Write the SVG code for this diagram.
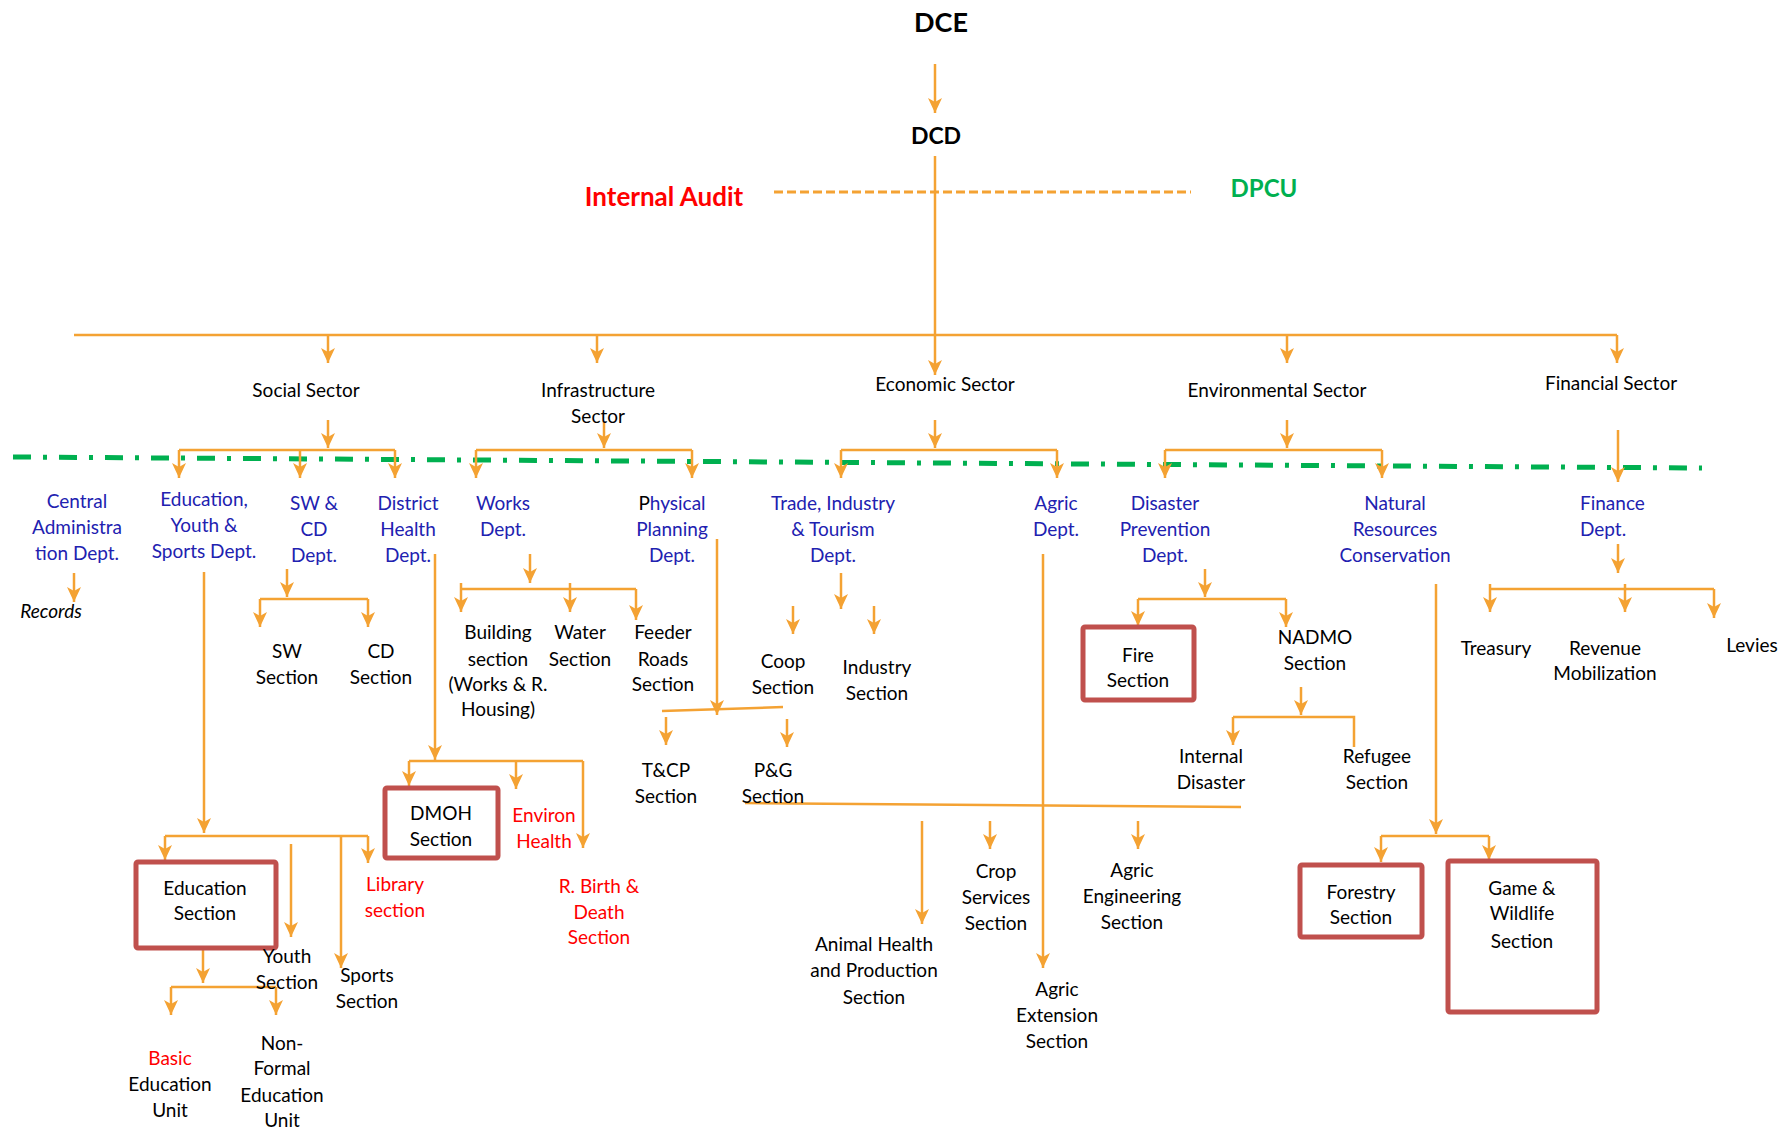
<svg xmlns="http://www.w3.org/2000/svg" width="1791" height="1131" viewBox="0 0 1791 1131">
<style>
text{font-family:Lato,"Liberation Sans",sans-serif;font-size:19px;fill:#000;text-anchor:middle}
.b{fill:#2121B0}
.r{fill:#FF0000}
.hb{font-weight:bold}
.c{fill:none;stroke:#F4A233;stroke-width:2.5}
.a{marker-end:url(#ah)}
.box{fill:#fff;stroke:#C0504D;stroke-width:5}
</style>
<defs>
<marker id="ah" markerUnits="userSpaceOnUse" markerWidth="16" markerHeight="14" refX="15" refY="7" orient="auto">
<path d="M0,0 L15,7 L0,14 L4,7 z" fill="#F4A233"/>
</marker>
</defs>
<rect width="1791" height="1131" fill="#fff"/>

<g id="connectors">
<path class="c a" d="M935,64 V113"/>
<path class="c a" d="M935,156 V375"/>
<path class="c" d="M774,192 H1191" stroke-dasharray="9 4" style="stroke-width:3.2"/>
<path class="c" d="M74,335 H1617"/>
<path class="c a" d="M328,335 V363"/>
<path class="c a" d="M597,335 V363"/>
<path class="c a" d="M1287,335 V363"/>
<path class="c a" d="M1617,335 V363"/>
<path d="M13,457 L1702,468" fill="none" stroke="#00B050" stroke-width="5" stroke-dasharray="18 12 4 12"/>
<!-- social -->
<path class="c a" d="M328,420 V448"/>
<path class="c" d="M179,450 H395"/>
<path class="c a" d="M179,450 V478"/>
<path class="c a" d="M300,450 V478"/>
<path class="c a" d="M395,450 V478"/>
<!-- infrastructure -->
<path class="c a" d="M604,422 V448"/>
<path class="c" d="M476,450 H692"/>
<path class="c a" d="M476,450 V478"/>
<path class="c a" d="M692,450 V478"/>
<!-- economic -->
<path class="c a" d="M935,420 V448"/>
<path class="c" d="M841,450 H1057"/>
<path class="c a" d="M841,450 V478"/>
<path class="c a" d="M1057,450 V478"/>
<!-- environmental -->
<path class="c a" d="M1287,420 V448"/>
<path class="c" d="M1165,450 H1382"/>
<path class="c a" d="M1165,450 V478"/>
<path class="c a" d="M1382,450 V478"/>
<!-- financial -->
<path class="c a" d="M1618,430 V482"/>
<!-- central -->
<path class="c a" d="M74,573 V602"/>
<!-- sw cd -->
<path class="c a" d="M287,569 V597"/>
<path class="c" d="M260,599 H368"/>
<path class="c a" d="M260,599 V627"/>
<path class="c a" d="M368,599 V627"/>
<!-- works -->
<path class="c a" d="M530,554 V583"/>
<path class="c" d="M461,589 H636"/>
<path class="c a" d="M461,583 V612"/>
<path class="c a" d="M570,583 V612"/>
<path class="c a" d="M636,589 V620"/>
<!-- physical planning -->
<path class="c a" d="M717,539 V715"/>
<path class="c" d="M662,711 L783,707"/>
<path class="c a" d="M666,717 V745"/>
<path class="c a" d="M787,719 V747"/>
<!-- trade -->
<path class="c a" d="M841,573 V609"/>
<path class="c a" d="M793,606 V634"/>
<path class="c a" d="M874,606 V634"/>
<!-- agric -->
<path class="c a" d="M1043,554 V968"/>
<path class="c" d="M745,803 L1241,807"/>
<path class="c a" d="M922,821 V924"/>
<path class="c a" d="M990,821 V849"/>
<path class="c a" d="M1138,821 V849"/>
<!-- disaster -->
<path class="c a" d="M1205,569 V597"/>
<path class="c" d="M1138,599 H1286"/>
<path class="c a" d="M1138,599 V626"/>
<path class="c a" d="M1286,599 V627"/>
<path class="c a" d="M1301,687 V715"/>
<path class="c" d="M1233,717 H1354 V747"/>
<path class="c a" d="M1233,717 V745"/>
<!-- natural resources -->
<path class="c a" d="M1436,584 V834"/>
<path class="c" d="M1381,836 H1489"/>
<path class="c a" d="M1381,836 V862"/>
<path class="c a" d="M1489,836 V860"/>
<!-- finance -->
<path class="c a" d="M1618,544 V573"/>
<path class="c" d="M1490,589 H1714"/>
<path class="c a" d="M1490,584 V612"/>
<path class="c a" d="M1625,584 V612"/>
<path class="c a" d="M1714,589 V618"/>
<!-- district health -->
<path class="c a" d="M435,554 V760"/>
<path class="c" d="M409,761 H583"/>
<path class="c a" d="M409,761 V786"/>
<path class="c a" d="M516,761 V789"/>
<path class="c a" d="M583,761 V848"/>
<!-- education -->
<path class="c a" d="M204,572 V833"/>
<path class="c" d="M165,836 H368"/>
<path class="c a" d="M165,836 V860"/>
<path class="c a" d="M368,836 V863"/>
<path class="c a" d="M291,844 V937"/>
<path class="c a" d="M341,836 V968"/>
<path class="c a" d="M203,939 V983"/>
<path class="c" d="M171,987 H276"/>
<path class="c a" d="M171,987 V1015"/>
<path class="c a" d="M276,987 V1015"/>
</g>

<g id="dce"><text x="941" y="32" class="hb" style="font-size:27px">DCE</text></g>
<g id="dcd"><text x="936" y="144" class="hb" style="font-size:23px">DCD</text></g>
<g id="internal-audit"><text x="664" y="206" class="hb r" style="font-size:26px">Internal Audit</text></g>
<g id="dpcu"><text x="1264" y="197" class="hb" style="font-size:24px;fill:#00B050">DPCU</text></g>

<g id="social-sector"><text x="306" y="397">Social Sector</text></g>
<g id="infrastructure-sector"><text x="598"><tspan x="598" y="397">Infrastructure</tspan><tspan x="598" y="423">Sector</tspan></text></g>
<g id="economic-sector"><text x="945" y="391">Economic Sector</text></g>
<g id="environmental-sector"><text x="1277" y="397">Environmental Sector</text></g>
<g id="financial-sector"><text x="1611" y="390">Financial Sector</text></g>

<g id="central-admin"><text class="b"><tspan x="77" y="508">Central</tspan><tspan x="77" y="534">Administra</tspan><tspan x="77" y="560">tion Dept.</tspan></text></g>
<g id="records"><text x="51" y="618" style="font-style:italic">Records</text></g>
<g id="education-dept"><text class="b"><tspan x="204" y="506">Education,</tspan><tspan x="204" y="532">Youth &amp;</tspan><tspan x="204" y="558">Sports Dept.</tspan></text></g>
<g id="swcd-dept"><text class="b"><tspan x="314" y="510">SW &amp;</tspan><tspan x="314" y="536">CD</tspan><tspan x="314" y="562">Dept.</tspan></text></g>
<g id="district-health"><text class="b"><tspan x="408" y="510">District</tspan><tspan x="408" y="536">Health</tspan><tspan x="408" y="562">Dept.</tspan></text></g>
<g id="works-dept"><text class="b"><tspan x="503" y="510">Works</tspan><tspan x="503" y="536">Dept.</tspan></text></g>
<g id="physical-planning"><text class="b"><tspan x="672" y="510"><tspan style="fill:#000">P</tspan>hysical</tspan><tspan x="672" y="536">Planning</tspan><tspan x="672" y="562">Dept.</tspan></text></g>
<g id="trade-dept"><text class="b"><tspan x="833" y="510">Trade, Industry</tspan><tspan x="833" y="536">&amp; Tourism</tspan><tspan x="833" y="562">Dept.</tspan></text></g>
<g id="agric-dept"><text class="b"><tspan x="1056" y="510">Agric</tspan><tspan x="1056" y="536">Dept.</tspan></text></g>
<g id="disaster-dept"><text class="b"><tspan x="1165" y="510">Disaster</tspan><tspan x="1165" y="536">Prevention</tspan><tspan x="1165" y="562">Dept.</tspan></text></g>
<g id="natural-resources"><text class="b"><tspan x="1395" y="510">Natural</tspan><tspan x="1395" y="536">Resources</tspan><tspan x="1395" y="562">Conservation</tspan></text></g>
<g id="finance-dept"><text class="b" style="text-anchor:start"><tspan x="1580" y="510">Finance</tspan><tspan x="1580" y="536">Dept.</tspan></text></g>

<g id="sw-section"><text><tspan x="287" y="658">SW</tspan><tspan x="287" y="684">Section</tspan></text></g>
<g id="cd-section"><text><tspan x="381" y="658">CD</tspan><tspan x="381" y="684">Section</tspan></text></g>
<g id="building-section"><text><tspan x="498" y="639">Building</tspan><tspan x="498" y="666">section</tspan><tspan x="498" y="691">(Works &amp; R.</tspan><tspan x="498" y="716">Housing)</tspan></text></g>
<g id="water-section"><text><tspan x="580" y="639">Water</tspan><tspan x="580" y="666">Section</tspan></text></g>
<g id="feeder-roads"><text><tspan x="663" y="639">Feeder</tspan><tspan x="663" y="666">Roads</tspan><tspan x="663" y="691">Section</tspan></text></g>
<g id="tcp-section"><text><tspan x="666" y="777">T&amp;CP</tspan><tspan x="666" y="803">Section</tspan></text></g>
<g id="pg-section"><text><tspan x="773" y="777">P&amp;G</tspan><tspan x="773" y="803">Section</tspan></text></g>
<g id="coop-section"><text><tspan x="783" y="668">Coop</tspan><tspan x="783" y="694">Section</tspan></text></g>
<g id="industry-section"><text><tspan x="877" y="674">Industry</tspan><tspan x="877" y="700">Section</tspan></text></g>
<g id="agric-extension"><text><tspan x="1057" y="996">Agric</tspan><tspan x="1057" y="1022">Extension</tspan><tspan x="1057" y="1048">Section</tspan></text></g>
<g id="animal-health"><text><tspan x="874" y="951">Animal Health</tspan><tspan x="874" y="977">and Production</tspan><tspan x="874" y="1004">Section</tspan></text></g>
<g id="crop-services"><text><tspan x="996" y="878">Crop</tspan><tspan x="996" y="904">Services</tspan><tspan x="996" y="930">Section</tspan></text></g>
<g id="agric-engineering"><text><tspan x="1132" y="877">Agric</tspan><tspan x="1132" y="903">Engineering</tspan><tspan x="1132" y="929">Section</tspan></text></g>

<g id="fire-section"><rect class="box" x="1083" y="627" width="111" height="73" rx="2"/><text><tspan x="1138" y="662">Fire</tspan><tspan x="1138" y="687">Section</tspan></text></g>
<g id="nadmo-section"><text><tspan x="1315" y="644">NADMO</tspan><tspan x="1315" y="670">Section</tspan></text></g>
<g id="internal-disaster"><text><tspan x="1211" y="763">Internal</tspan><tspan x="1211" y="789">Disaster</tspan></text></g>
<g id="refugee-section"><text><tspan x="1377" y="763">Refugee</tspan><tspan x="1377" y="789">Section</tspan></text></g>
<g id="forestry-section"><rect class="box" x="1300" y="865" width="122" height="72" rx="2"/><text><tspan x="1361" y="899">Forestry</tspan><tspan x="1361" y="924">Section</tspan></text></g>
<g id="game-wildlife"><rect class="box" x="1448" y="861" width="149" height="151" rx="2"/><text><tspan x="1522" y="895">Game &amp;</tspan><tspan x="1522" y="920">Wildlife</tspan><tspan x="1522" y="948">Section</tspan></text></g>

<g id="treasury"><text x="1496" y="655">Treasury</text></g>
<g id="revenue"><text><tspan x="1605" y="655">Revenue</tspan><tspan x="1605" y="680">Mobilization</tspan></text></g>
<g id="levies"><text x="1752" y="652">Levies</text></g>

<g id="dmoh-section"><rect class="box" x="385" y="788" width="113" height="70" rx="2"/><text><tspan x="441" y="820">DMOH</tspan><tspan x="441" y="846">Section</tspan></text></g>
<g id="environ-health"><text class="r"><tspan x="544" y="822">Environ</tspan><tspan x="544" y="848">Health</tspan></text></g>
<g id="birth-death"><text class="r"><tspan x="599" y="893">R. Birth &amp;</tspan><tspan x="599" y="919">Death</tspan><tspan x="599" y="944">Section</tspan></text></g>

<g id="education-section"><rect class="box" x="136" y="862" width="140" height="86" rx="2"/><text><tspan x="205" y="895">Education</tspan><tspan x="205" y="920">Section</tspan></text></g>
<g id="library-section"><text class="r"><tspan x="395" y="891">Library</tspan><tspan x="395" y="917">section</tspan></text></g>
<g id="youth-section"><text><tspan x="287" y="963">Youth</tspan><tspan x="287" y="989">Section</tspan></text></g>
<g id="sports-section"><text><tspan x="367" y="982">Sports</tspan><tspan x="367" y="1008">Section</tspan></text></g>
<g id="basic-education"><text><tspan x="170" y="1065" class="r">Basic</tspan><tspan x="170" y="1091">Education</tspan><tspan x="170" y="1117">Unit</tspan></text></g>
<g id="non-formal"><text><tspan x="282" y="1050">Non-</tspan><tspan x="282" y="1075">Formal</tspan><tspan x="282" y="1102">Education</tspan><tspan x="282" y="1127">Unit</tspan></text></g>
</svg>
